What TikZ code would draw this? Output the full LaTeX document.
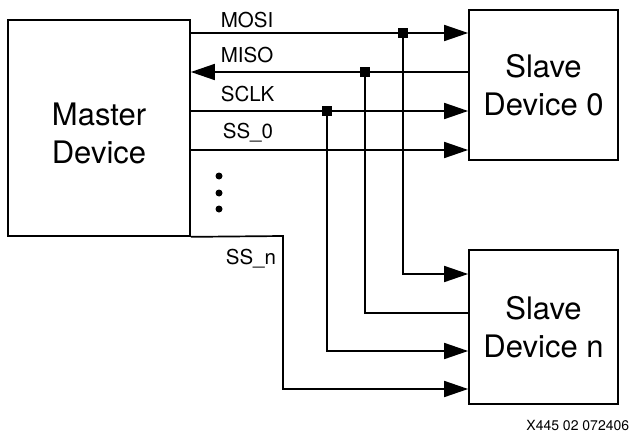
\documentclass[tikz,border=0pt]{standalone}
\usepackage{fontspec}
\setmainfont{TeX Gyre Heros}
\usetikzlibrary{arrows.meta}

\newcommand{\sigfont}{\fontsize{20.5pt}{24pt}\selectfont}
\newcommand{\devfont}{\fontsize{31pt}{38pt}\selectfont}

\begin{document}
\begin{tikzpicture}[x=1pt, y=-1pt, line width=1.7pt,
    device/.style={draw, align=center, font=\devfont},
    devtext/.style={align=center, font=\devfont},
    wire/.style={line width=1.7pt},
    towire/.style={wire, -{Triangle[length=24pt, width=16pt]}},
    junction/.style={fill, minimum size=10pt, inner sep=0pt},
    siglabel/.style={anchor=base west, inner sep=0pt, font=\sigfont}]

    \useasboundingbox (0,0) rectangle (631,433);

    % Draw the devices
    \node[device, minimum width=182pt, minimum height=216pt] (master) at (99,128) {};
    \node[devtext] (mastertext) at (99,133) {Master\\Device};
    \node[device, minimum width=149pt, minimum height=150pt] (slave0) at (543.5,85) {Slave\\Device 0};
    \node[device, minimum width=149pt, minimum height=154pt] (slaven) at (543.5,327) {Slave\\Device n};

    % Draw the taps on the shared lines
    \coordinate (mosi) at (403,33);
    \coordinate (miso) at (365,72);
    \coordinate (sclk) at (327,111);
    \coordinate (ssz) at (190,150);
    \coordinate (ssn) at (283,236);

    % Draw the lines to the first slave
    \draw[towire] (master.east |- mosi) -- (slave0.west |- mosi);
    \draw[towire] (slave0.west |- miso) -- (master.east |- miso);
    \draw[towire] (master.east |- sclk) -- (slave0.west |- sclk);
    \draw[towire] (ssz) -- (slave0.west |- ssz);

    % Draw the lines to the last slave
    \draw[towire] (mosi) |- (slaven.west |- 0,274);
    \draw[wire] (miso) |- (slaven.west |- 0,313);
    \draw[towire] (sclk) |- (slaven.west |- 0,351);
    \draw[towire] (master.south east) -- (ssn) |- (slaven.west |- 0,389);

    % Draw the junctions
    \node[junction] (jmosi) at (mosi) {};
    \node[junction] (jmiso) at (miso) {};
    \node[junction] (jsclk) at (sclk) {};

    % Draw the signal names
    \node[siglabel] (lmosi) at (220,28) {MOSI};
    \node[siglabel] (lmiso) at (220,63) {MISO};
    \node[siglabel] (lsclk) at (220,102) {SCLK};
    \node[siglabel] (lssz) at (222,138) {SS\_0};
    \node[siglabel] (lssn) at (225,264) {SS\_n};

    % Draw the dot dot dots
    \foreach \y in {176,193,209}
        \fill (219,\y) circle (3.5pt);

    % Figure number
    \node[anchor=base east, inner sep=0pt, font=\fontsize{14pt}{16pt}\selectfont] (fignum) at (630,430) {X445 02 072406};

\end{tikzpicture}
\end{document}
